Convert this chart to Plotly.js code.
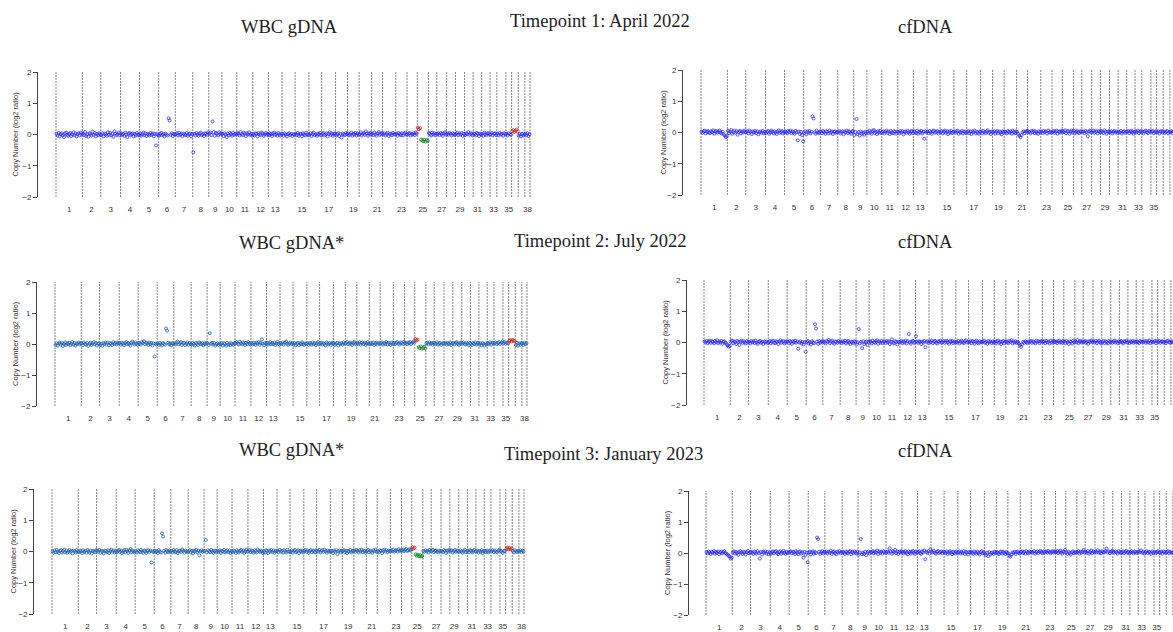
<!DOCTYPE html>
<html><head><meta charset="utf-8">
<script src="https://cdn.plot.ly/plotly-3.0.1.min.js"></script>
<style>html,body{margin:0;padding:0;background:#fff;overflow:hidden}#chart{width:1173px;height:632px}</style>
</head><body><div id="chart"></div>
<script>
// ---------------- DATA ----------------
const chromosomes = ['1','2','3','4','5','6','7','8','9','10','11','12','13','14','15','16','17','18','19','20','21','22','23','24','25','26','27','28','29','30','31','32','33','34','35','36','37','38'];
const chromLengthsMb = [122.68,85.43,91.89,88.28,88.92,77.57,80.97,74.33,61.07,69.33,74.39,72.50,63.24,60.97,64.19,59.63,64.29,55.84,53.74,58.13,50.86,61.44,52.29,47.69,51.63,38.96,45.88,41.18,41.85,40.21,39.80,38.81,31.38,42.12,26.52,30.81,30.90,23.91];
const tickChromosomes = ['1','2','3','4','5','6','7','8','9','10','11','12','13','15','17','19','21','23','25','27','29','31','33','35','38'];

const panelTitles = ['WBC gDNA','cfDNA','WBC gDNA*','cfDNA','WBC gDNA*','cfDNA'];
const timepointTitles = ['Timepoint 1: April 2022','Timepoint 2: July 2022','Timepoint 3: January 2023'];
const yAxisTitle = 'Copy Number (log2 ratio)';

// log2 ratio per bin, one list per chromosome
const wbc1 = [
[.02,-.03,.05,-.06,.01,.04,-.02,-.08,.03,.06,-.01,-.04,.02,.05,-.05,.00,.07,-.02,.03,-.06,.01,.04,-.03,.06,.00],
[.03,-.02,.08,-.05,.01,-.07,.04,.02,-.03,.09,-.01,.05,-.06,.02,-.02,.04,.00],
[-.02,.04,-.06,.03,.01,-.04,.07,-.01,.05,-.03,.02,-.07,.10,.03,-.02,.01,.06,-.03],
[.04,-.01,.02,-.05,.06,.00,-.08,.03,.05,-.02,.01,.04,-.06,.02,-.03,.05,.00,-.02],
[.03,-.04,.01,.06,-.02,.04,-.05,.02,.00,-.03,.05,-.01,.03,-.06,.02,-.35,.01,-.03],
[-.04,.02,.05,-.02,.01,-.06,.03,.00,-.03,.52,.45,-.01,.04,-.05,.02,.00],
[.01,.04,-.03,.06,-.01,.02,-.05,.03,.00,-.02,.05,-.04,.01,.03,-.06,.02],
[-.57,.02,-.03,.05,.00,-.04,.03,.06,-.02,.01,-.05,.04,.02,-.01,.07],
[.03,.06,-.02,.42,.08,-.04,.05,.02,-.03,.07,.01,.04],
[.02,-.05,.04,.00,-.08,.03,-.02,.05,.01,-.04,.06,-.01,.02,.00],
[.05,.02,-.03,.08,.01,-.02,.06,.03,-.05,.04,.00,.07,-.01,.02,-.04],
[.01,-.03,.04,.02,-.06,.05,.00,-.02,.06,.03,-.04,.01,.05,-.01,.02],
[-.02,.04,.01,-.05,.03,.06,-.01,.02,-.04,.05,.00,-.03,.03],
[.02,-.04,.03,.00,-.06,.01,.04,-.02,.02,-.05,.01,-.01],
[.03,-.02,.05,-.04,.01,.02,-.06,.04,.00,-.03,.06,.01,-.02],
[-.01,.04,-.05,.02,.06,-.02,.01,-.04,.03,.00,.05,-.03],
[.02,.05,-.03,.00,.04,-.06,.02,.07,-.01,.03,-.04,.01,.04],
[-.03,.01,.04,-.05,.02,-.10,.03,.00,-.02,.05,.01],
[.04,-.02,.01,.06,-.04,.02,.00,.05,-.03,.03,-.01],
[.01,.07,-.03,.02,.05,-.01,.10,.03,-.04,.02,.06,.00],
[.03,-.02,.06,.01,-.04,.04,.08,-.01,.02,.05],
[.00,.04,-.03,.02,.06,-.05,.01,.03,-.02,.05,.00,.02],
[.02,-.04,.05,.01,-.02,.04,-.03,.03,.06,.00],
[-.01,.03,.05,-.03,.02,.00,.04,-.02,.06,.03],
[.22,.17,.20,-.16,-.19,-.21,-.17,-.23,-.18,-.20],
[.05,.02,-.03,.06,.00,.04,-.02,.03],
[.01,.04,-.02,.05,.02,-.04,.03,.07,.00],
[.03,-.01,.05,.02,-.03,.04,.01,-.02],
[.02,.06,-.02,.03,.00,.05,-.04,.02],
[-.02,.03,.01,.08,-.01,.04,.02,-.03],
[.04,.01,-.03,.05,.02,-.05,.03,.00],
[.02,-.04,.06,.01,-.02,.03,.05,-.01],
[.01,.05,-.03,.02,.04,-.02],
[.03,-.02,.05,.00,.02,-.04,.04,.01],
[.02,-.03,.04,.01,-.01],
[.10,.14,.08,.12,.16,.09],
[-.04,.01,-.06,.02,-.03,.00],
[.03,-.02,.04,-.05,.01]];

const cf1 = [
[.03,-.01,.04,.06,-.03,.02,.05,.00,-.02,.04,.01,.07,-.04,.03,.05,-.01,.02,.06,.00,-.03,.02,-.06,-.10,-.15,-.12],
[.05,-.02,.03,.08,-.04,.01,.06,-.01,.04,-.07,.02,.05,-.03,.03,.00,.06,.02],
[.01,.04,-.03,.06,.02,-.05,.03,.00,.05,-.02,.04,-.06,.01,.03,-.01,.05,-.03,.02],
[-.02,.03,.05,-.04,.01,.06,.02,-.03,.04,.00,-.05,.03,.07,-.01,.02,.05,-.03,.01],
[.04,.01,-.03,.05,.02,.06,-.02,.03,.00,-.04,.05,.01,-.25,.03,-.05,.02,-.08,-.28],
[-.02,.04,-.06,.03,.00,.05,-.03,.02,.52,.45,.01,-.04,.06,.00,-.02,.03],
[.03,-.02,.05,.01,-.04,.04,.02,-.03,.06,.00,.03,-.05,.02,.04,-.01,.01],
[.02,.05,-.03,.01,.04,-.06,.03,.00,.06,-.02,.04,.01,-.04,.03,.05],
[-.08,.02,.43,-.05,.01,-.10,.03,-.04,.00,-.07,.02,-.03],
[.03,-.02,.06,.01,-.04,.05,.08,-.01,.02,-.05,.04,.00,.06,-.02],
[.01,.04,-.03,.02,.06,-.01,.03,-.05,.05,.00,-.02,.04,.02,-.04,.03],
[.02,-.03,.05,.00,.04,-.06,.02,.03,-.01,.06,.01,-.04,.03,.05,-.02],
[.04,.01,-.02,.06,-.04,.03,.00,.05,-.03,.02,-.20,.04,.01],
[.03,-.02,.05,.01,-.04,.04,.06,-.01,.02,.05,-.03,.02],
[.01,.05,-.03,.02,.06,-.01,.04,-.05,.03,.00,.05,-.02,.02],
[.04,-.01,.03,.06,-.04,.02,.00,.05,-.03,.03,.01,-.02],
[.02,.05,-.02,.03,-.05,.04,.01,.06,-.03,.02,.00,-.04,.03],
[.03,-.03,.05,.01,-.02,.04,.07,-.01,.02,-.05,.03],
[.01,.04,-.04,.02,.05,-.02,.03,.00,-.06,.04,.02],
[.03,.00,-.03,.05,.02,-.01,.04,-.04,.06,.01,-.02,.03],
[.02,-.05,-.10,-.15,-.08,.01,.04,-.02,.03,.05],
[.04,.01,-.03,.05,.02,.06,-.02,.03,.00,-.04,.04,.02],
[.03,-.02,.05,.01,.04,-.03,.06,.00,.02,-.01],
[.02,.05,-.01,.03,.06,-.04,.02,.04,.00,.05],
[.04,.01,.07,-.02,.03,.05,-.04,.02,.06,.00],
[.05,-.03,.02,.06,.01,-.02,.04,.03],
[.02,.04,-.02,.05,.01,-.12,.03,.06,.00],
[.03,.06,-.01,.02,.05,-.03,.04,.01],
[.05,.02,-.02,.07,.03,-.04,.02,.04],
[.01,.04,-.03,.02,.05,.00,.03,-.02],
[.03,.00,.05,-.03,.02,.04,-.01,.03],
[.02,.05,-.02,.03,.06,.01,-.04,.02],
[.04,.01,.06,-.02,.03,.05],
[.02,-.03,.04,.06,.01,-.02,.05,.03],
[.03,.05,-.02,.02,.04],
[.01,.04,-.03,.03,.05,.00],
[.04,-.01,.02,.05,-.03,.02],
[.02,.04,-.02,.03,.01]];

const wbc2 = [
[-.03,.02,-.05,.01,.04,-.02,.03,-.06,.00,.05,-.03,.02,-.01,.04,-.04,.01,.06,-.02,.03,-.05,.02,.00,.05,-.01,.03],
[.02,-.04,.05,.00,-.02,.03,-.06,.01,.04,-.03,.02,.06,-.01,.03,-.05,.01,.02],
[-.03,.01,-.06,.03,.00,.04,-.02,.05,-.04,.02,.01,-.03,.06,.00,.03,-.01,.04,.02],
[.03,-.02,.05,.01,-.04,.02,.06,-.01,.03,.00,-.05,.04,.08,.02,-.02,.05,.01,-.03],
[.04,.01,-.02,.06,.03,.09,-.01,.04,.02,-.03,.05,.00,.03,-.05,.02,-.40,.01,-.02],
[.02,-.03,.04,.00,-.05,.03,.01,-.02,.50,.43,.04,-.01,.02,-.04,.03,.00],
[.01,-.02,.05,.08,-.01,.03,.06,-.03,.02,.04,-.04,.01,.05,-.02,.03,.00],
[-.02,.03,.00,-.05,.04,.01,-.03,.05,.02,-.01,.03,-.04,.02,.00,.04],
[.02,-.03,.35,.01,.04,-.02,.03,-.05,.00,.02,-.03,.01],
[-.01,.03,-.05,.02,.00,-.06,.04,-.02,.01,-.04,.03,.00,-.03,.02],
[.03,.06,.01,-.02,.08,.03,-.01,.05,.02,-.03,.04,.00,.06,.01,-.02],
[.02,-.01,.04,.00,-.03,.05,.02,.06,-.02,.03,.15,.01,-.04,.03,.00],
[.04,-.02,.02,.06,-.01,.03,.00,.05,-.03,.02,.07,.01,-.02],
[.03,.00,.05,-.02,.04,.08,.01,-.03,.02,.05,.00,.03],
[-.02,.03,-.04,.01,.04,-.03,.02,-.01,.05,.00,-.03,.02,.01],
[.02,-.03,.04,.01,-.02,.05,.00,.03,-.04,.02,.06,-.01],
[.01,.04,-.02,.03,.00,-.04,.05,.02,-.01,.03,-.03,.02,.04],
[.02,-.03,.01,.04,-.05,.02,.00,.03,-.02,.05,.01],
[.03,.06,-.01,.02,.05,.01,-.03,.04,.07,.02,-.02],
[.04,.01,.06,-.02,.03,.05,.00,.04,-.03,.02,.06,.01],
[-.01,.03,.00,.05,-.03,.02,.04,-.02,.03,.01],
[.02,.05,-.02,.03,.00,.06,-.01,.04,.02,-.03,.05,.01],
[.03,-.01,.04,.06,.01,-.02,.05,.03,.00,.07],
[.04,.02,-.01,.05,.03,.06,.00,.04,.08,.05],
[.16,.12,.14,-.10,-.13,-.08,-.15,-.12,-.09,-.14],
[.02,.04,-.01,.05,.01,.03,-.02,.04],
[.03,.00,.05,-.02,.02,.04,-.03,.01,.03],
[.01,.04,-.02,.03,.00,.05,-.03,.02],
[.03,-.01,.04,.06,.01,-.03,.02,.05],
[.02,.05,.00,-.02,.04,.01,-.04,.03],
[.01,-.03,.03,.00,.05,-.02,.02,.04],
[-.02,.02,-.04,.03,.00,-.05,.02,-.01],
[.03,.00,.05,-.02,.04,.02],
[.02,.05,-.01,.03,.06,.00,.04,.08],
[.03,.06,.01,.04,.02],
[.10,.12,.08,.13,.11,.09],
[-.03,.04,-.05,.02,-.02,.03],
[.02,-.03,.04,.00,.03]];

const cf2 = [
[.04,.00,.05,-.02,.03,.06,-.01,.04,.02,-.03,.05,.01,.07,-.02,.03,.00,.05,-.04,.02,.04,-.01,-.05,-.09,-.14,-.11],
[.03,.06,-.02,.04,.01,-.05,.05,.02,-.08,.03,.06,-.01,.04,.00,-.03,.05,.02],
[.02,-.03,.05,.01,.04,-.02,.06,.00,-.04,.03,.05,-.01,.02,-.05,.04,.01,.03,-.02],
[.01,.05,-.03,.03,.06,.00,-.02,.04,.02,-.05,.03,.07,-.01,.02,.05,-.03,.01,.04],
[.03,-.02,.05,.02,-.04,.04,.01,.06,-.01,.03,-.20,.00,.04,-.03,.02,-.06,.01,-.30],
[.02,.05,-.03,.01,-.06,.04,.00,-.02,.58,.45,.03,-.04,.05,-.01,.02,.04],
[.04,.01,-.03,.05,.02,.08,-.02,.03,.06,.00,-.04,.04,.02,-.01,.05,.01],
[.03,-.02,.04,.01,.06,-.03,.02,.05,.00,-.05,.03,.01,-.02,.04,.02],
[-.06,.01,.43,-.03,.02,-.18,.04,-.05,.00,.03,-.08,.02],
[.05,.02,-.03,.06,.01,-.01,.04,.07,-.04,.03,.00,.05,-.02,.03],
[.03,-.02,.05,.01,.04,-.05,.02,.10,.00,-.03,.04,.02,-.06,.03,.01],
[.02,.05,-.02,.03,.00,.06,-.03,.04,.27,.01,-.04,.03,.05,-.01,.02],
[.20,.03,-.01,.04,.02,-.05,.03,.00,.05,-.15,.02,.04,-.02],
[.04,.01,.06,-.02,.03,.05,.00,-.03,.04,.02,.06,-.01],
[.02,.05,-.01,.03,.06,.01,-.04,.04,.02,.05,-.02,.03,.00],
[.03,.00,.05,-.03,.02,.06,.01,-.02,.04,.07,.00,.03],
[.01,.04,-.02,.05,.02,-.04,.03,.06,.00,-.03,.04,.01,.02],
[.03,.06,-.01,.02,-.04,.05,.01,.03,-.02,.04,.00],
[.02,-.03,.04,.06,-.01,.03,-.05,.02,.05,-.02,.03],
[.04,.01,-.02,.05,.02,.07,-.03,.03,.00,.04,-.01,.02],
[-.03,-.08,-.14,-.06,.02,-.01,.04,.01,-.02,.03],
[.03,.05,-.01,.04,.01,-.03,.06,.02,.04,-.02,.03,.05],
[.02,.04,-.02,.05,.01,.03,-.03,.06,.00,.04],
[.05,.01,.03,-.02,.04,.06,.00,.02,-.01,.05],
[.03,-.02,.05,.01,-.04,.04,.02,-.03,.06,.01],
[.04,.01,.08,-.02,.03,.05,.00,.03],
[.02,.05,-.01,.03,-.04,.04,.01,.06,.02],
[.04,.00,.05,-.02,.03,.06,.01,-.03],
[.02,.05,-.02,.04,.01,-.03,.05,.02],
[.03,-.01,.04,.06,.00,.03,-.02,.04],
[.02,.05,.01,-.03,.04,.02,.06,.00],
[.03,-.02,.04,.01,.05,-.01,.03,.02],
[.04,.01,-.02,.05,.02,.03],
[.02,.05,-.01,.04,.00,.06,-.02,.03],
[.03,.01,.05,-.02,.04],
[.02,.05,-.01,.03,.04,.00],
[.03,-.02,.04,.06,.01,-.01],
[.04,.01,.03,-.02,.02]];

const wbc3 = [
[.01,-.04,.03,-.02,.05,.00,-.05,.02,.04,-.03,.01,.06,-.02,.03,-.04,.00,.05,-.01,.02,-.06,.03,.01,-.03,.04,.00],
[-.02,.03,.00,-.05,.04,-.01,.02,-.04,.05,.01,-.03,.03,-.06,.02,.00,-.02,.04],
[.03,-.01,.05,-.04,.02,.00,-.06,.03,.01,-.02,.04,-.05,.02,.06,-.01,.03,-.03,.01],
[-.03,.02,.05,-.01,.03,-.05,.00,.04,-.02,.06,.01,-.04,.03,.08,-.02,.02,.00,-.03],
[.02,-.03,.04,.01,-.02,.05,.00,-.04,.03,.01,-.05,.02,.04,-.01,.03,-.35,.00,-.02],
[.03,-.02,.01,-.05,.04,.00,-.03,.58,.48,.02,-.04,.05,.01,-.02,.03,-.01],
[.02,-.03,.05,.00,-.02,.04,-.05,.01,.03,-.01,.06,.02,-.04,.03,.00,-.02],
[.01,.04,-.03,.02,-.06,.03,.00,.05,-.02,.03,-.12,.01,.04,-.01,.02],
[.02,.37,-.03,.04,.01,-.02,.05,.00,-.04,.03,.01,-.02],
[.03,-.01,.04,-.04,.02,.00,.05,-.03,.01,.04,-.02,.03,-.05,.01],
[-.02,.03,.01,-.05,.04,.00,-.03,.02,.05,-.01,.03,-.04,.01,.06,.00],
[.02,.05,-.02,.03,.00,-.04,.04,.01,-.03,.06,.02,-.01,.03,.00,-.05],
[.01,-.03,.04,.02,-.05,.03,.00,.05,-.02,.03,-.04,.01,.02],
[.03,-.02,.05,.00,.02,-.04,.04,.01,-.03,.06,.00,-.01],
[-.01,.03,-.04,.02,.05,-.02,.01,.04,-.05,.02,.00,.03,-.03],
[.02,.05,-.01,.03,-.04,.01,.04,-.02,.03,.00,-.03,.04],
[.03,.00,.05,-.03,.02,.04,-.01,.06,.01,-.04,.03,.00,.02],
[-.02,.02,-.05,.03,.00,.04,-.08,.01,.03,-.03,.02],
[.01,.04,-.02,.03,-.05,.02,.00,.05,-.03,.01,.03],
[.03,-.01,.05,.02,-.03,.04,.00,.06,-.02,.03,.01,-.04],
[.02,.05,-.02,.03,.00,-.04,.04,.01,.06,-.01],
[.01,-.03,.04,.02,-.05,.03,.06,.00,.04,-.02,.03,.01],
[.04,.01,.06,-.01,.03,.05,.00,.07,.02,.04],
[.03,.06,.01,.05,.08,.02,.04,.07,.03,.06],
[.14,.10,.12,-.09,-.13,-.11,-.15,-.12,-.16,-.14],
[.02,-.01,.04,.00,.03,-.03,.05,.01],
[.03,.05,-.02,.02,.04,.00,-.03,.03,.01],
[.01,-.02,.04,.02,-.04,.03,.00,.05],
[.02,.04,-.03,.01,.05,-.01,.03,.00],
[-.01,.03,.00,-.04,.02,.05,-.02,.01],
[.03,-.02,.04,.01,-.03,.02,.05,.00],
[.00,.03,-.04,.02,-.01,.04,-.05,.01],
[.02,-.01,.03,-.03,.01,.04],
[.01,.04,-.02,.03,.00,-.03,.02,.05],
[.03,.00,-.04,.02,.01],
[.09,.12,.07,.11,.08,.10],
[.02,-.03,.04,.00,-.02,.03],
[.01,.04,-.02,.03,.00]];

const cf3 = [
[.03,-.01,.05,.02,-.03,.04,.01,.06,-.02,.03,.00,.05,-.04,.02,.04,-.01,.03,.06,.00,-.03,-.05,-.08,-.12,-.18,-.15],
[.02,.05,-.02,.04,.00,-.06,.03,.06,.01,-.03,.04,.02,-.05,.03,.07,-.01,.02],
[.04,.01,-.03,.05,.02,-.02,.06,.00,-.18,.03,-.05,.04,.01,.05,-.02,.03,-.04,.02],
[-.03,.02,.05,-.01,.04,.06,.00,-.04,.03,.05,-.02,.02,.07,.01,-.03,.04,.00,.02],
[.03,.05,-.01,.04,.02,-.03,.06,.01,-.04,.03,.05,-.02,.02,-.15,.04,-.06,.01,-.30],
[.01,.04,-.05,.02,.05,-.02,.03,.00,.50,.45,.04,-.03,.02,.06,-.01,.03],
[.02,.05,-.02,.04,.01,.07,-.03,.03,.05,.00,-.04,.04,.02,.06,-.01,.03],
[.04,.01,-.03,.05,.02,-.01,.04,.06,-.04,.03,.00,.05,.02,-.02,.04],
[-.05,.02,.45,-.04,.01,-.03,.04,-.07,.02,.05,-.02,.03],
[.03,.06,-.01,.04,.02,.08,-.03,.05,.01,.04,-.02,.06,.03,.00],
[.02,.05,.01,.15,.04,-.02,.06,.03,.10,.00,.05,-.03,.04,.02,.06],
[.04,-.01,.03,.06,.00,-.04,.05,.02,-.02,.04,.07,.01,-.03,.05,.02],
[.03,.06,.00,-.03,.05,.02,.08,-.20,.04,.01,.06,-.02,.12],
[.05,.02,.07,.01,-.02,.04,.06,.00,.03,.05,-.01,.04],
[.03,.00,.05,-.03,.02,.06,.01,-.04,.04,.02,-.02,.05,.01],
[.02,.05,-.02,.03,.00,.06,-.03,.04,.01,-.05,.03,.02],
[.04,.01,-.03,.05,.02,-.02,.04,.00,-.05,.03,.06,-.01,.02],
[-.02,-.06,.01,-.10,.03,-.04,.00,.02,-.03,.04,.01],
[.03,.00,-.04,.02,.05,-.02,.04,.01,-.03,.03,.00],
[-.02,-.08,-.12,-.05,.02,.00,.04,-.03,.03,.05,.01,-.02],
[.03,.05,.00,.04,-.02,.06,.02,-.01,.04,.03],
[.04,.01,.06,-.02,.03,.05,.00,.04,.07,.02,-.01,.05],
[.02,.05,.01,.07,.03,-.01,.04,.06,.02,.05],
[.03,.06,.00,.04,.08,.02,-.02,.05,.03,.10],
[.02,-.03,.04,.00,-.05,.02,.05,-.01,.03,.01],
[.03,.06,-.02,.04,.01,.05,.10,.02],
[.04,.01,.06,-.02,.03,.08,.00,.05,.02],
[.05,.02,.09,.01,.04,-.01,.06,.03],
[.03,.06,.14,.02,.05,-.01,.04,.07],
[.04,.01,.05,.02,-.02,.06,.03,.00],
[.02,.05,-.01,.04,.07,.01,.03,-.02],
[.03,.06,.02,-.01,.05,.03,.00,.04],
[.05,.02,.08,.01,.04,-.02],
[.03,.06,.00,.04,.02,-.03,.05,.01],
[.04,-.01,.03,.06,.02],
[.01,.04,-.02,.05,.03,.00],
[.03,.06,-.01,.04,.02,.00],
[.02,.05,.00,.03,.01]];

// CNV calls: [chromosome, first bin, last bin, call]
const wbc1Calls = [[25,0,2,'gain'],[25,3,9,'loss'],[36,0,5,'gain']];
const wbc2Calls = [[25,0,2,'gain'],[25,3,9,'loss'],[36,0,5,'gain']];
const wbc3Calls = [[25,0,2,'gain'],[25,3,9,'loss'],[36,0,5,'gain']];

// ---------------- LAYOUT / STYLE ----------------
const W = 1173, H = 632;
const total = chromLengthsMb.reduce((a, b) => a + b, 0);
const starts = [];
let acc = 0;
chromLengthsMb.forEach(l => { starts.push(acc); acc += l; });
const ends = chromLengthsMb.map((l, i) => starts[i] + l);

const BLUE = 'rgba(40,40,255,0.85)';
const STEEL = 'rgba(35,100,180,0.9)';
const panels = [
  {data: wbc1, calls: wbc1Calls, x0: 56,  x1: 530,  yTop: 72,  yBot: 197, axisX: 37,  labelY: 210, titleX: 15,  color: BLUE},
  {data: cf1,  calls: [],        x0: 701, x1: 1175, yTop: 70,  yBot: 195, axisX: 682, labelY: 208, titleX: 663, color: BLUE},
  {data: wbc2, calls: wbc2Calls, x0: 55,  x1: 527,  yTop: 282, yBot: 406, axisX: 36,  labelY: 419, titleX: 15,  color: STEEL},
  {data: cf2,  calls: [],        x0: 704, x1: 1176, yTop: 280, yBot: 405, axisX: 686, labelY: 418, titleX: 665, color: BLUE},
  {data: wbc3, calls: wbc3Calls, x0: 52,  x1: 524,  yTop: 489, yBot: 614, axisX: 33,  labelY: 627, titleX: 13,  color: STEEL},
  {data: cf3,  calls: [],        x0: 706, x1: 1178, yTop: 491, yBot: 615, axisX: 688, labelY: 628, titleX: 667, color: BLUE}
];
const titlePos = [[289, 27], [925, 27], [291, 243], [925, 242], [291, 450], [925, 451]];
const tpPos = [[600, 21], [600, 241], [603, 454]];

const traces = [];
const layout = {
  width: W, height: H, margin: {l: 0, r: 0, t: 0, b: 0},
  paper_bgcolor: '#fff', plot_bgcolor: 'rgba(0,0,0,0)', showlegend: false,
  font: {family: 'Liberation Sans, Arial, sans-serif', color: '#333'},
  annotations: []
};

const tickVals = tickChromosomes.map(c => { const i = chromosomes.indexOf(c); return starts[i] + chromLengthsMb[i] / 2; });

panels.forEach((p, k) => {
  const sfx = k === 0 ? '' : String(k + 1);
  const xr = 'x' + sfx, yr = 'y' + sfx;
  const s = (p.x1 - p.x0) / total;
  const d0 = (p.x0 - 3) / W;
  const d1 = Math.min(1, (p.x1 + 3) / W);
  const r0 = -3 / s, r1 = (d1 * W - p.x0) / s;

  layout['xaxis' + sfx] = {
    domain: [d0, d1], range: [r0, r1], anchor: 'free',
    position: (H - (p.labelY - 7)) / H,
    showline: false, showgrid: false, zeroline: false, ticks: '',
    tickmode: 'array', tickvals: tickVals, ticktext: tickChromosomes,
    tickfont: {size: 8, color: '#333'}, fixedrange: true
  };
  layout['yaxis' + sfx] = {
    domain: [(H - p.yBot) / H, (H - p.yTop) / H], range: [-2, 2],
    anchor: 'free', position: p.axisX / W,
    showline: true, linecolor: '#444', linewidth: 1, ticks: 'outside', ticklen: 4,
    tickcolor: '#444', tickwidth: 1,
    tickmode: 'array', tickvals: [-2, -1, 0, 1, 2],
    showgrid: false, zeroline: false, tickfont: {size: 8, color: '#333'}, fixedrange: true
  };

  // chromosome boundaries
  const bx = [], by = [];
  [0].concat(ends).forEach(b => { bx.push(b, b, null); by.push(-2, 2, null); });
  traces.push({x: bx, y: by, xaxis: xr, yaxis: yr, mode: 'lines', hoverinfo: 'skip',
    line: {color: '#858585', width: 1, dash: '2px,1px'}});

  // points
  const groups = {normal: {x: [], y: []}, gain: {x: [], y: []}, loss: {x: [], y: []}};
  p.data.forEach((vals, ci) => {
    const chr = ci + 1;
    vals.forEach((v, bi) => {
      let g = 'normal';
      p.calls.forEach(c => { if (c[0] === chr && bi >= c[1] && bi <= c[2]) g = c[3]; });
      groups[g].x.push(starts[ci] + (bi + 0.5) * chromLengthsMb[ci] / vals.length);
      groups[g].y.push(v);
    });
  });
  const cols = {normal: p.color, gain: 'rgba(210,40,40,0.95)', loss: 'rgba(30,140,50,0.95)'};
  ['normal', 'gain', 'loss'].forEach(g => {
    if (!groups[g].x.length) return;
    traces.push({x: groups[g].x, y: groups[g].y, xaxis: xr, yaxis: yr, mode: 'markers',
      hoverinfo: 'skip', cliponaxis: true,
      marker: {size: 3, symbol: 'circle-open', color: cols[g], line: {width: 0.9, color: cols[g]}}});
  });

  // y title
  layout.annotations.push({xref: 'paper', yref: 'paper', x: p.titleX / W,
    y: 1 - ((p.yTop + p.yBot) / 2) / H, text: yAxisTitle, textangle: -90, showarrow: false,
    xanchor: 'center', yanchor: 'middle', font: {size: 7.5, color: '#333'}});
  // panel title
  layout.annotations.push({xref: 'paper', yref: 'paper', x: titlePos[k][0] / W,
    y: 1 - titlePos[k][1] / H, text: panelTitles[k], showarrow: false,
    xanchor: 'center', yanchor: 'middle',
    font: {family: 'Liberation Serif, Times New Roman, serif', size: 18.5, color: '#222'}});
});
timepointTitles.forEach((t, i) => {
  layout.annotations.push({xref: 'paper', yref: 'paper', x: tpPos[i][0] / W, y: 1 - tpPos[i][1] / H,
    text: t, showarrow: false, xanchor: 'center', yanchor: 'middle',
    font: {family: 'Liberation Serif, Times New Roman, serif', size: 18.5, color: '#222'}});
});

Plotly.newPlot('chart', traces, layout, {displayModeBar: false, staticPlot: true});
</script></body></html>
